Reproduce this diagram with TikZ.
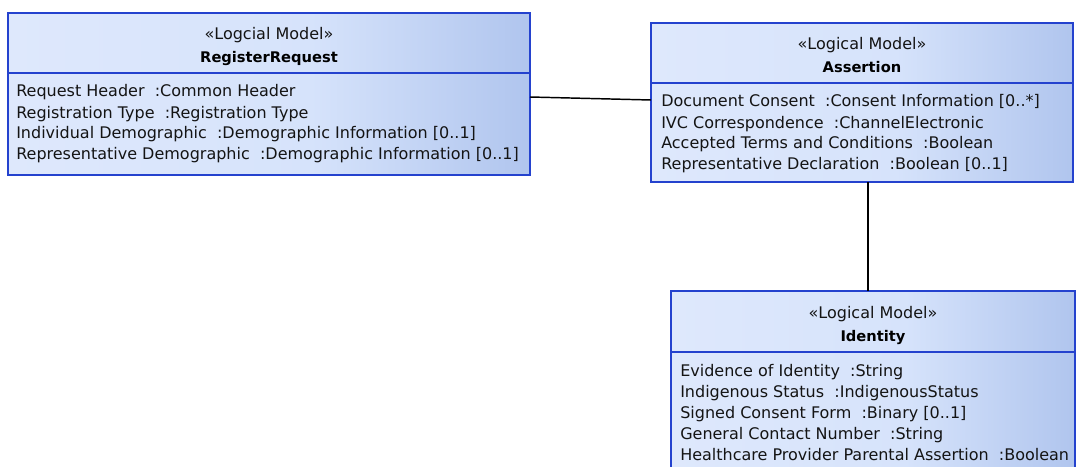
\documentclass[tikz,border=0pt]{standalone}
\usepackage{fontspec}
\setmainfont{DejaVu Sans}
\definecolor{umlblue}{RGB}{36,66,206}
\definecolor{fillL}{RGB}{222,232,252}
\definecolor{fillM}{RGB}{214,227,251}
\definecolor{fillR}{RGB}{176,197,238}
\definecolor{txt}{RGB}{20,20,20}
% light on the left, darkening only over the right part of the box
\pgfdeclarehorizontalshading{classfill}{100bp}{color(0bp)=(fillL); color(25bp)=(fillL);
  color(54bp)=(fillM); color(75bp)=(fillR); color(100bp)=(fillR)}
\tikzset{
  classbox/.style={draw=umlblue, line width=1.1pt, shade, shading=classfill,
    inner sep=0pt, outer sep=0pt, anchor=north west},
  divider/.style={draw=umlblue, line width=1.1pt},
  stereo/.style={anchor=base, inner sep=0pt, text=txt, font=\fontsize{12pt}{14pt}\selectfont},
  cname/.style={anchor=base, inner sep=0pt, text=black, font=\fontsize{11pt}{13pt}\selectfont\bfseries},
  attr/.style={anchor=base west, inner sep=0pt, text=txt, font=\fontsize{12pt}{14pt}\selectfont},
  assoc/.style={draw=black, line width=1.1pt}
}
\begin{document}
\begin{tikzpicture}[x=0.75pt,y=-0.75pt]
\useasboundingbox (0,0) rectangle (1076,467);

% class boxes
\node[classbox, minimum width=391.5pt, minimum height=121.5pt] (req) at (8,13) {};
\node[classbox, minimum width=316.5pt, minimum height=119.25pt] (ass) at (651,23) {};
\node[classbox, minimum width=303pt, minimum height=141.75pt] (idn) at (671,291) {};

% compartment dividers
\draw[divider] (8,73) -- (530,73);
\draw[divider] (651,83) -- (1073,83);
\draw[divider] (671,352) -- (1075,352);

% RegisterRequest
\node[stereo] (reqst) at (269,40) {«Logcial Model»};
\node[cname] (reqnm) at (269,63) {RegisterRequest};
\node[attr] (reqa1) at (16,97) {Request Header\ \ :Common Header};
\node[attr] (reqa2) at (16,118) {Registration Type\ \ :Registration Type};
\node[attr] (reqa3) at (16,139) {Individual Demographic\ \ :Demographic Information [0..1]};
\node[attr] (reqa4) at (16,160) {Representative Demographic\ \ :Demographic Information [0..1]};

% Assertion
\node[stereo] (assst) at (862,50) {«Logical Model»};
\node[cname] (assnm) at (862,73) {Assertion};
\node[attr] (assa1) at (661,107) {Document Consent\ \ :Consent Information [0..*]};
\node[attr] (assa2) at (661,128) {IVC Correspondence\ \ :ChannelElectronic};
\node[attr] (assa3) at (661,149) {Accepted Terms and Conditions\ \ :Boolean};
\node[attr] (assa4) at (661,170) {Representative Declaration\ \ :Boolean [0..1]};

% Identity
\node[stereo] (idnst) at (873,318) {«Logical Model»};
\node[cname] (idnnm) at (873,341) {Identity};
\node[attr] (idna1) at (680,376) {Evidence of Identity\ \ :String};
\node[attr] (idna2) at (680,397) {Indigenous Status\ \ :IndigenousStatus};
\node[attr] (idna3) at (680,418) {Signed Consent Form\ \ :Binary [0..1]};
\node[attr] (idna4) at (680,439) {General Contact Number\ \ :String};
\node[attr] (idna5) at (680,460) {Healthcare Provider Parental Assertion\ \ :Boolean};

% associations
\coordinate (lvl1) at (0,97);
\coordinate (lvl2) at (0,100);
\coordinate (col) at (868,0);
\draw[assoc] (req.east |- lvl1) -- (ass.west |- lvl2);
\draw[assoc] (ass.south -| col) -- (idn.north -| col);
\end{tikzpicture}
\end{document}
